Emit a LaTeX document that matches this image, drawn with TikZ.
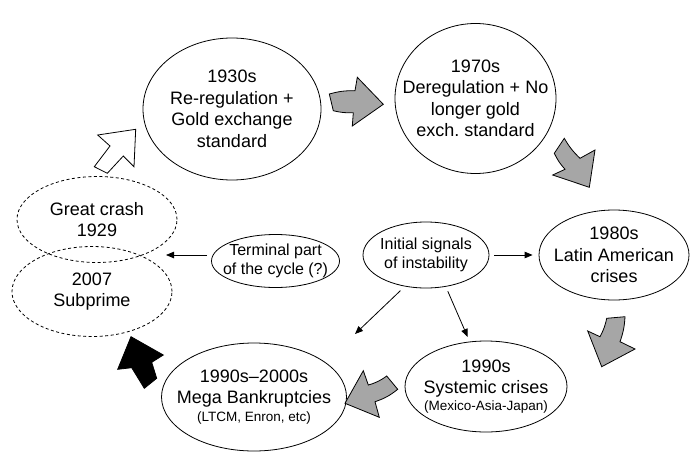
\documentclass[tikz,border=0pt]{standalone}
\usepackage{fontspec}
\setmainfont{Liberation Sans}
\usepackage{tikz}
\usetikzlibrary{shapes.geometric, arrows.meta, calc}

\begin{document}
\begin{tikzpicture}[x=1pt, y=-1pt,
  oval/.style={ellipse, draw, line width=0.8pt, inner xsep=-20pt, inner ysep=-10pt,
    align=center, font=\fontsize{18}{21.5}\selectfont},
  ovalmid/.style={oval, font=\fontsize{16}{19}\selectfont},
  ovaldash/.style={oval, dash pattern=on 3pt off 2.5pt},
  thinarr/.style={-{Triangle[length=8pt,width=6.5pt]}, line width=0.8pt},
  blockgray/.style={draw, line width=0.8pt, line join=miter, fill=black!35},
  blockwhite/.style={blockgray, fill=white},
  blockblack/.style={blockgray, fill=black}]
\useasboundingbox (0,0) rectangle (692,452);
\newcommand{\smalltxt}{\fontsize{13.5}{16}\selectfont}

% The cycle ovals
\node[oval, minimum width=178pt, minimum height=142pt] (n1930) at (232,109)
  {1930s\\Re-regulation +\\Gold exchange\\standard};
\node[oval, minimum width=161pt, minimum height=150pt] (n1970) at (475.5,98.5)
  {1970s\\Deregulation + No\\longer gold\\exch.\ standard};
\node[oval, minimum width=150pt, minimum height=90pt] (n1980) at (614,255)
  {1980s\\Latin American\\crises};
\node[oval, minimum width=162pt, minimum height=91pt] (nsys) at (486,386.5)
  {1990s\\Systemic crises\\[-5pt]{\smalltxt(Mexico-Asia-Japan)}};
\node[oval, minimum width=185pt, minimum height=108pt] (nmega) at (254,397)
  {1990s--2000s\\Mega Bankruptcies\\[-4pt]{\smalltxt(LTCM, Enron, etc)}};

% Dashed crash ovals
\node[ovaldash, minimum width=160pt, minimum height=86pt] (ncrash) at (97,219.5)
  {Great crash\\1929};
\node[ovaldash, minimum width=160pt, minimum height=90pt] (nsub) at (92,291.5)
  {2007\\Subprime};

% Inner ovals
\node[ovalmid, minimum width=126pt, minimum height=66pt] (ninit) at (426,255)
  {Initial signals\\of instability};
\node[ovalmid, minimum width=128pt, minimum height=53pt] (nterm) at (275.5,261)
  {Terminal part\\of the cycle (?)};

% Free ends of the thin arrows
\coordinate (crashtip) at (166,255);
\coordinate (megatip) at (355,334);

% Thin arrows
\draw[thinarr, shorten <=5pt, shorten >=6pt] (ninit.east) -- (n1980.west);
\draw[thinarr, shorten <=4pt] (nterm.west |- crashtip) -- (crashtip);
\draw[thinarr, shorten <=6pt] (ninit.236) -- (megatip);
\draw[thinarr, shorten <=5pt, shorten >=5pt] (ninit.302) -- (nsys.110);

% Block arrows round the cycle
\draw[blockwhite] (97.7,135) -- (135.7,129.3) -- (134,166.7) -- (123.3,156)
  -- (107.3,173.3) -- (94.3,166.7) -- (110,146) -- cycle;
\draw[blockgray] (329.3,94) to[bend left=8] (355,90.7) -- (357.3,77.3) -- (383.3,104.3)
  -- (352.3,126) -- (353.3,112.7) to[bend left=8] (333.3,110.7) -- cycle;
\draw[blockgray] (564.3,138.3) to[bend right=8] (580,158.3) -- (595,150) -- (589.3,187.3)
  -- (552.7,175) -- (565,169.3) to[bend left=8] (554.3,153.3) -- cycle;
\draw[blockgray] (606.7,318.3) -- (625,316.7) to[bend left=8] (620,341.7) -- (635,349)
  -- (601.7,366.7) -- (587.7,331) -- (600,336.7) to[bend right=8] (606.7,318.3) -- cycle;
\draw[blockgray] (345,403.3) -- (363.3,370.7) -- (368.3,385) to[bend right=10] (386.7,376)
  -- (397.7,389.3) to[bend left=10] (375,401.7) -- (379.3,417.3) -- cycle;
\draw[blockblack] (131,336.7) -- (163.3,355) -- (151.7,362.3) -- (156.7,378.3)
  -- (144.3,388.3) -- (131.7,367.7) -- (117.7,369.3) -- cycle;
\end{tikzpicture}
\end{document}
